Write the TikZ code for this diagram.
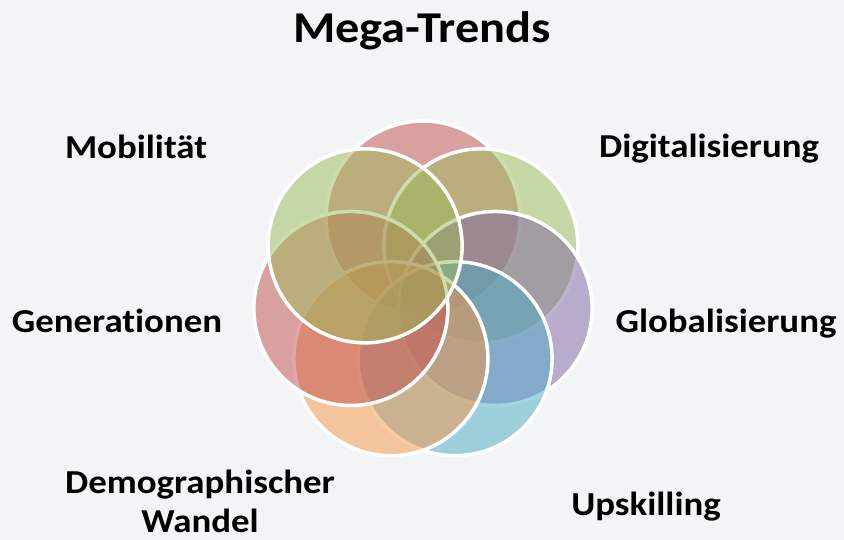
\documentclass[tikz,border=0pt]{standalone}
\usepackage{fontspec}
\setmainfont{Carlito}[Ligatures=NoCommon,FakeStretch=1.1]
\usetikzlibrary{calc}
\definecolor{bgc}{HTML}{F2F4F5}
\definecolor{trendred}{HTML}{C0504D}
\definecolor{trendgreen}{HTML}{9BBB59}
\definecolor{trendpurple}{HTML}{8064A2}
\definecolor{trendaqua}{HTML}{4BACC6}
\definecolor{trendorange}{HTML}{F79646}
\begin{document}
\begin{tikzpicture}[x=1pt,y=1pt,line cap=round,line join=round,
    font=\bfseries\fontsize{33.5}{39}\selectfont,
    trend/.style={circle,draw=white,line width=3.5pt,fill opacity=.5,
        minimum size=194pt,inner sep=0pt},
    label/.style={anchor=base,inner sep=0pt}]
    \fill[bgc] (0,0) rectangle (844,540);
    \useasboundingbox (0,0) rectangle (844,540);
    \coordinate (M) at (423,248); % Mitte der Blume
    \foreach \k/\c in {0/trendred,1/trendgreen,2/trendpurple,3/trendaqua,
        4/trendorange,5/trendred,6/trendgreen}
        \node[trend,fill=\c] (c\k) at ($(M)+({90-\k*360/7}:74)$) {};
    \node[label] (titel) at (422,497) {\fontsize{44}{48}\selectfont Mega-Trends};
    \node[label] (mob) at (136,381) {Mobilität};
    \node[label] (digi) at (709,382) {Digitalisierung};
    \node[label] (gen) at (117,207) {Generationen};
    \node[label] (glob) at (726,207) {Globalisierung};
    \node[label,align=center] (demo) at (200,7) {Demographischer\\Wandel};
    \node[label] (up) at (646,24) {Upskilling};
\end{tikzpicture}
\end{document}
